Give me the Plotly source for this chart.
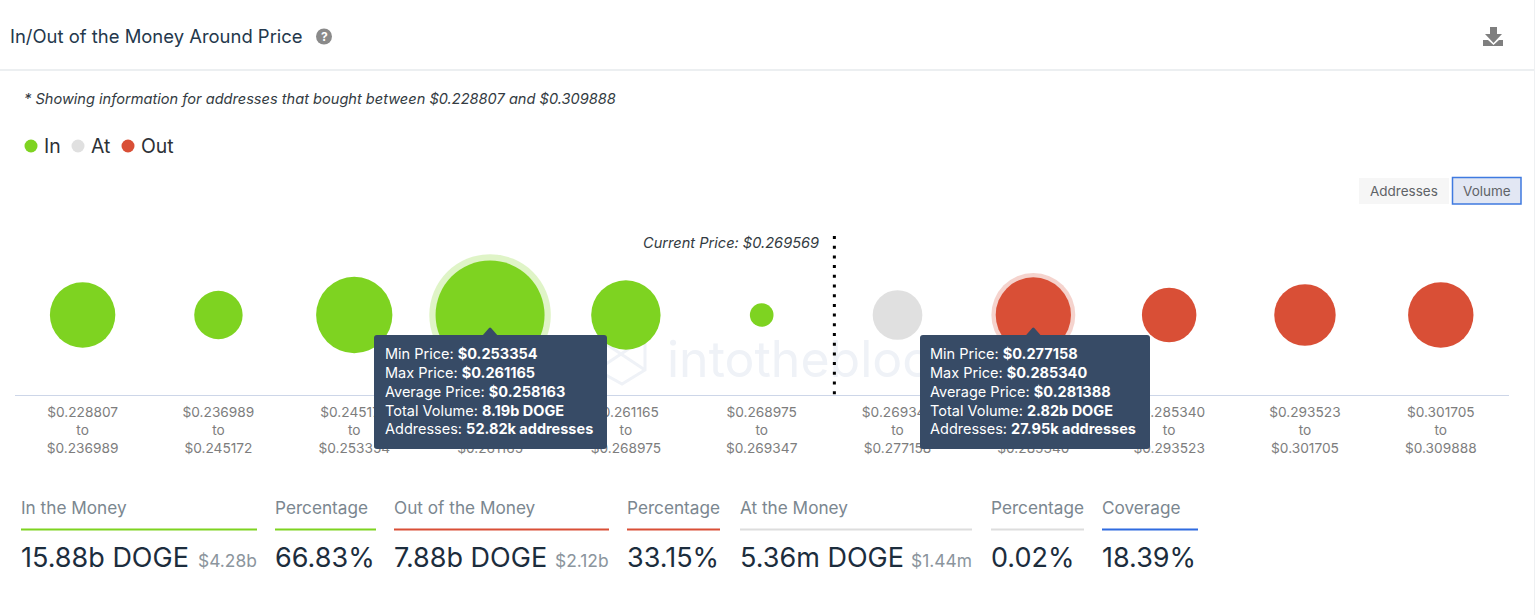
import plotly.graph_objects as go

W, H = 1536, 615
FONT = "Inter, 'Noto Sans', sans-serif"

range_low = ["$0.228807", "$0.236989", "$0.245172", "$0.253354", "$0.261165", "$0.268975",
             "$0.269347", "$0.277158", "$0.285340", "$0.293523", "$0.301705"]
range_high = ["$0.236989", "$0.245172", "$0.253354", "$0.261165", "$0.268975", "$0.269347",
              "$0.277158", "$0.285340", "$0.293523", "$0.301705", "$0.309888"]
volume_b = [1.88, 0.79, 2.93, 8.19, 2.23, 0.10, 0.85, 2.82, 1.11, 1.57, 1.88]
status = ["In", "In", "In", "In", "In", "In", "At", "Out", "Out", "Out", "Out"]
highlighted = [3, 7]
current_price_pos = 5.535

GREEN, GREY, RED = "#7ed321", "#e0e0e0", "#d94f36"
colors = {"In": GREEN, "At": GREY, "Out": RED}
TIP = "#374b66"
WM = "#eff2f7"


def diameter(v):
    return 109 * (v / 8.19) ** 0.347


def px(x):
    return x / W


def py(y):
    return 1 - y / H


x_idx = list(range(len(volume_b)))
fig = go.Figure()

# halo behind the highlighted bubbles
for group in ["In", "Out"]:
    idx = [i for i in highlighted if status[i] == group]
    fig.add_trace(go.Scatter(
        x=idx, y=[0] * len(idx), mode="markers", showlegend=False, hoverinfo="skip",
        marker=dict(color=colors[group], opacity=0.25, size=[diameter(volume_b[i]) * 1.115 for i in idx],
                    line=dict(width=0)),
    ))

for group in ["In", "At", "Out"]:
    idx = [i for i in x_idx if status[i] == group]
    fig.add_trace(go.Scatter(
        x=idx, y=[0] * len(idx), mode="markers", name=group, showlegend=False, hoverinfo="skip",
        marker=dict(color=colors[group], opacity=1, size=[diameter(volume_b[i]) for i in idx], line=dict(width=0)),
    ))

# current price dotted line
fig.add_trace(go.Scatter(
    x=[current_price_pos, current_price_pos], y=[-0.99, 1], mode="lines", showlegend=False,
    line=dict(color="#000000", width=3, dash="3px 6.7px"), hoverinfo="skip",
))

shapes, ann = [], []


def text(x, y, s, size, color, anchor="left", italic=False, valign="middle"):
    ann.append(dict(x=px(x), y=py(y), xref="paper", yref="paper", text=f"<i>{s}</i>" if italic else s,
                    showarrow=False, xanchor=anchor, yanchor=valign,
                    font=dict(family=FONT, size=size, color=color), borderpad=0, borderwidth=0))


def hline(x0, x1, y, color, width=1.5):
    shapes.append(dict(type="line", xref="paper", yref="paper", x0=px(x0), x1=px(x1), y0=py(y), y1=py(y),
                       line=dict(color=color, width=width)))


def circle(cx, cy, r, color):
    shapes.append(dict(type="circle", xref="paper", yref="paper", x0=px(cx - r), x1=px(cx + r),
                       y0=py(cy + r), y1=py(cy - r), fillcolor=color, line=dict(width=0)))


def poly(points, fill=None, line=None, layer="above", close=True):
    d = " ".join(f"{'M' if k == 0 else 'L'} {px(a)} {py(b)}" for k, (a, b) in enumerate(points))
    shapes.append(dict(type="path", xref="paper", yref="paper", layer=layer, path=d + (" Z" if close else ""),
                       fillcolor=fill or "rgba(0,0,0,0)",
                       line=dict(width=0) if line is None else line))


def round_rect(x0, y0, x1, y1, r, fill):
    pts = [("M", x0 + r, y0), ("L", x1 - r, y0), ("Q", x1, y0, x1, y0 + r), ("L", x1, y1 - r),
           ("Q", x1, y1, x1 - r, y1), ("L", x0 + r, y1), ("Q", x0, y1, x0, y1 - r), ("L", x0, y0 + r),
           ("Q", x0, y0, x0 + r, y0)]
    out = []
    for p in pts:
        nums = p[1:]
        coords = [px(v) if k % 2 == 0 else py(v) for k, v in enumerate(nums)]
        out.append(p[0] + " " + " ".join(str(c) for c in coords))
    shapes.append(dict(type="path", xref="paper", yref="paper", layer="above", path=" ".join(out) + " Z",
                       fillcolor=fill, line=dict(width=0)))


# header
text(10, 36, "In/Out of the Money Around Price", 18.45, "#24384c")
circle(324, 36.5, 8, "#8a8a8a")
text(324, 36.5, "<b>?</b>", 12, "#ffffff", anchor="center")
hline(0, 1534, 70, "#eceff1", 2)
shapes.append(dict(type="line", xref="paper", yref="paper", x0=px(1534.5), x1=px(1534.5), y0=0, y1=1,
                   line=dict(color="#eef0f2", width=1)))
# download icon
poly([(1490, 27), (1497, 27), (1497, 34), (1502, 34), (1493.5, 43), (1485, 34), (1490, 34)], fill="#7f7f7f")
poly([(1483, 40), (1488, 40), (1493.5, 45), (1499, 40), (1503, 40), (1503, 46), (1483, 46)], fill="#7f7f7f")

text(24, 99, "* Showing information for addresses that bought between $0.228807 and $0.309888", 14.6, "#333b42", italic=True)

# legend
for cx, tx, label, col in [(31, 44, "In", GREEN), (78, 91, "At", GREY), (128, 141, "Out", RED)]:
    circle(cx, 146, 6.5, col)
    text(tx, 146, label, 19.4, "#2c3136")

# toggle buttons
shapes.append(dict(type="rect", xref="paper", yref="paper", x0=px(1359), x1=px(1449), y0=py(204), y1=py(178),
                   fillcolor="#f6f6f6", line=dict(width=0)))
shapes.append(dict(type="rect", xref="paper", yref="paper", x0=px(1452.5), x1=px(1521), y0=py(204), y1=py(177.5),
                   fillcolor="#e2e7f3", line=dict(width=1.5, color="#3f7ae0")))
text(1404, 191, "Addresses", 13.5, "#5f6367", anchor="center")
text(1487, 191, "Volume", 13.5, "#5f6367", anchor="center")

# current price label
text(820, 242.5, "Current Price: $0.269569", 14.6, "#333b42", anchor="right", italic=True)

# watermark, drawn below the marks
shapes.append(dict(type="rect", xref="paper", yref="paper", x0=px(664), x1=px(1030), y0=py(384), y1=py(330),
                   fillcolor="rgba(0,0,0,0)", line=dict(width=0), layer="below",
                   label=dict(text="intotheblock", font=dict(family=FONT, size=50, color=WM),
                              textposition="middle left", padding=0)))
wm_line = dict(color=WM, width=3)
hexagon = [(622, 325), (645, 338), (645, 370), (622, 384), (597, 370), (597, 338)]
poly(hexagon, line=wm_line, layer="below")
poly([(597, 338), (645, 370)], line=wm_line, layer="below", close=False)
poly([(645, 338), (597, 370)], line=wm_line, layer="below", close=False)

# KPI row
kpis = [
    (21, 257, "In the Money", GREEN, "15.88b DOGE", "$4.28b"),
    (275, 376, "Percentage", GREEN, "66.83%", ""),
    (394, 609, "Out of the Money", RED, "7.88b DOGE", "$2.12b"),
    (627, 720, "Percentage", RED, "33.15%", ""),
    (740, 972, "At the Money", "#dddddd", "5.36m DOGE", "$1.44m"),
    (991, 1084, "Percentage", "#dddddd", "0.02%", ""),
    (1102, 1198, "Coverage", "#2f6be0", "18.39%", ""),
]
for x0, x1, label, col, val, sub in kpis:
    text(x0, 507.5, label, 17.2, "#7b8790")
    hline(x0, x1, 529.5, col, 2)
    text(x0, 557, val, 27, "#1c2d3d")
    if sub:
        text(x1, 560, sub, 17.4, "#8b959d", anchor="right")

# tooltips
tips = [
    (3, 374, 607, 385, ["Min Price: <b>$0.253354</b>", "Max Price: <b>$0.261165</b>",
                        "Average Price: <b>$0.258163</b>", "Total Volume: <b>8.19b DOGE</b>",
                        "Addresses: <b>52.82k addresses</b>"]),
    (7, 920, 1150, 930, ["Min Price: <b>$0.277158</b>", "Max Price: <b>$0.285340</b>",
                         "Average Price: <b>$0.281388</b>", "Total Volume: <b>2.82b DOGE</b>",
                         "Addresses: <b>27.95k addresses</b>"]),
]
for i, x0, x1, tx, lines in tips:
    round_rect(x0, 335, x1, 449, 3, TIP)
    shapes.append(dict(type="path", layer="above", xref="x", xsizemode="pixel", xanchor=i,
                       yref="paper", ysizemode="pixel", yanchor=py(336),
                       path="M -8 0 L -1 8 L 0 8.5 L 1 8 L 8 0 Z", fillcolor=TIP, line=dict(width=0)))
    ann.append(dict(x=px(tx), y=py(391), xref="paper", yref="paper", xanchor="left", yanchor="middle",
                    text="<br>".join(lines), align="left", showarrow=False, borderpad=0, borderwidth=0,
                    font=dict(family=FONT, size=14.5, color="#ffffff")))

fig.update_layout(
    width=W, height=H, margin=dict(l=0, r=0, t=0, b=0), paper_bgcolor="#ffffff", plot_bgcolor="rgba(0,0,0,0)",
    showlegend=False, hovermode=False, shapes=shapes, annotations=ann, font=dict(family=FONT),
    xaxis=dict(domain=[px(14.7), px(1508.7)], range=[-0.5, 10.5], tickmode="array", tickvals=x_idx,
               ticktext=[f"{a}<br>to<br>{b}" for a, b in zip(range_low, range_high)],
               showgrid=False, zeroline=False, ticks="", showline=True, linecolor="#cdd6e8", linewidth=1,
               tickfont=dict(family=FONT, size=13.7, color="#7d7d7d"), fixedrange=True, tickangle=0,
               ticklabelstandoff=5),
    yaxis=dict(domain=[py(395), py(235)], range=[-1, 1], visible=False, fixedrange=True),
)
fig.write_html("out.html", post_script="document.body.style.margin='0';", config={"displayModeBar": False})
